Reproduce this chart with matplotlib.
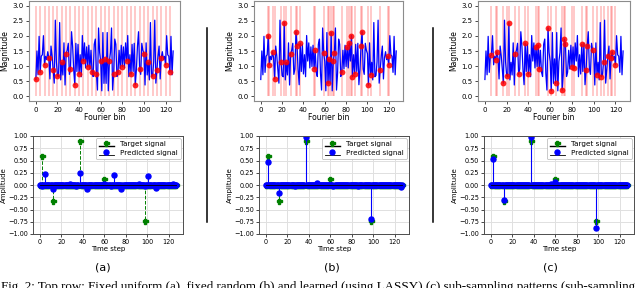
import numpy as np
import matplotlib
matplotlib.use("Agg")
import matplotlib.pyplot as plt
from matplotlib.lines import Line2D

# |spectrum| of the target signal, bins 0..64 (bins 65..127 mirror these)
magnitude_half = [
    0.560, 1.501, 0.715, 1.983, 0.795, 1.329, 1.376, 2.006, 1.045, 1.323, 1.216, 1.477, 1.278,
    0.578, 1.663, 1.343, 0.877, 0.439, 2.517, 1.139, 0.691, 0.650, 2.439, 0.546, 1.127, 0.709,
    1.769, 0.378, 1.414, 1.526, 1.754, 0.728, 0.904, 2.136, 1.665, 0.885, 0.387, 1.754, 0.824,
    1.720, 0.741, 1.377, 0.652, 2.011, 1.168, 1.768, 0.941, 1.636, 0.986, 1.690, 0.907, 1.524,
    0.801, 0.658, 1.720, 1.894, 0.757, 0.211, 2.260, 1.448, 1.156, 0.186, 2.109, 0.431, 1.240,
]
magnitude = magnitude_half + magnitude_half[1:64][::-1]

# sub-sampling patterns (sampled Fourier bins)
bins_uniform = list(range(0, 128, 4))
bins_random = [7, 8, 11, 13, 19, 22, 24, 28, 33, 34, 37, 50, 51, 59, 63, 64,
               66, 68, 69, 76, 81, 83, 85, 86, 88, 94, 95, 101, 103, 112, 119, 120]
bins_learned = [6, 10, 11, 17, 20, 22, 28, 31, 37, 40, 47, 49, 50, 58, 61, 65,
                71, 73, 74, 80, 82, 89, 93, 94, 99, 103, 107, 109, 113, 116, 117, 120]

# target signal (sparse)
target_steps = [2, 12, 37, 60, 98]
target_vals = [0.60, -0.33, 0.90, 0.12, -0.73]

# predicted signals
pred_a_steps = [2, 5, 12, 28, 34, 37, 44, 60, 66, 69, 76, 92, 98, 101, 108, 124]
pred_a_vals = [-0.02, 0.23, -0.08, 0.02, -0.02, 0.24, -0.08, 0.02, -0.02, 0.20, -0.08, 0.02, -0.02, 0.19, -0.07, 0.02]
pred_b_steps = [2, 12, 27, 37, 48, 63, 86, 98, 110, 126]
pred_b_vals = [0.46, -0.17, -0.02, 0.97, 0.04, -0.02, -0.03, -0.70, 0.01, -0.04]
pred_c_steps = [2, 12, 27, 37, 56, 60, 83, 98]
pred_c_vals = [0.53, -0.31, 0.01, 0.97, 0.02, 0.07, 0.01, -0.87]

N = 128
steps = np.arange(N)


def dense(idx, vals):
    out = np.zeros(N)
    out[idx] = vals
    return out


target = dense(target_steps, target_vals)
preds = [dense(pred_a_steps, pred_a_vals), dense(pred_b_steps, pred_b_vals), dense(pred_c_steps, pred_c_vals)]
patterns = [bins_uniform, bins_random, bins_learned]
labels = ["(a)", "(b)", "(c)"]

W, H = 640, 288
fig = plt.figure(figsize=(W / 100, H / 100), dpi=100)


def px_axes(left, right, top, bottom):
    return fig.add_axes([left / W, 1 - bottom / H, (right - left) / W, (bottom - top) / H])


top_boxes = [(29, 180), (254, 403), (478, 630)]
bot_boxes = [(33, 183), (259, 409), (484, 634)]
label_x = [103, 332, 550]

for i in range(3):
    # top row: spectrum and sampled bins
    ax = px_axes(top_boxes[i][0], top_boxes[i][1], 1, 101)
    ax.vlines(patterns[i], 0, 3, colors="red", alpha=0.25, linewidth=1.2)
    ax.plot(steps, magnitude, color="blue", linewidth=0.9)
    ax.plot(patterns[i], [magnitude[b] for b in patterns[i]], "o", color="red",
            markersize=4.2, alpha=0.85, markeredgewidth=0)
    ax.set_xlim(-6.35, 133.35)
    ax.set_ylim(-0.15, 3.15)
    ax.set_yticks(np.arange(0, 3.01, 0.5))
    ax.set_xticks(range(0, 121, 20))
    ax.set_xlabel("Fourier bin", fontsize=5.5, labelpad=0.5)
    ax.set_ylabel("Magnitude", fontsize=5.5, labelpad=2)
    ax.tick_params(labelsize=5, length=2.5, width=0.5, pad=1.5)
    for s in ax.spines.values():
        s.set_color("0.55")
        s.set_linewidth(0.8)

    # bottom row: target vs predicted
    ax = px_axes(bot_boxes[i][0], bot_boxes[i][1], 136, 234)
    ax.grid(True, color="0.88", linewidth=0.7)
    ax.set_axisbelow(True)
    ml, sl, bl = ax.stem(steps, target, linefmt="g--", markerfmt="gP", basefmt="k-",
                         label="Target signal")
    ml.set_markersize(3.6)
    sl.set_linewidth(0.7)
    bl.set_linewidth(1.0)
    ml, sl, bl = ax.stem(steps, preds[i], linefmt="b-", markerfmt="bo", basefmt="k-",
                         label="Predicted signal")
    ml.set_markersize(3.6)
    sl.set_linewidth(0.8)
    bl.set_linewidth(0.6)
    ax.set_xlim(-6.35, 133.35)
    ax.set_ylim(-1, 1)
    ax.set_yticks(np.arange(-1, 1.01, 0.25))
    ax.set_xticks(range(0, 121, 20))
    ax.set_xlabel("Time step", fontsize=5, labelpad=0.5)
    ax.set_ylabel("Amplitude", fontsize=5, labelpad=0.5)
    ax.tick_params(labelsize=4.7, length=2.5, width=0.5, pad=1.2)
    for s in ax.spines.values():
        s.set_color("0.3")
        s.set_linewidth(0.7)
    leg = ax.legend(loc="upper right", fontsize=5.2, borderpad=0.4, handlelength=2.2,
                    labelspacing=0.45, borderaxespad=0.3, framealpha=1)
    leg.get_frame().set_linewidth(0.5)
    leg.get_frame().set_edgecolor("0.7")

    fig.text(label_x[i] / W, 1 - 267 / H, labels[i], fontsize=8, ha="center", va="center")

for xs in (207, 433):
    fig.add_artist(Line2D([xs / W, xs / W], [1 - 28 / H, 1 - 222 / H], color="black",
                          linewidth=1.1, transform=fig.transFigure))

fig.text(0.002, -2 / H, "Fig. 2: Top row: Fixed uniform (a), fixed random (b) and learned "
         "(using LASSY) (c) sub-sampling patterns (sub-sampling",
         fontsize=9.4, family="Liberation Serif", ha="left", va="baseline")

fig.savefig("out.png", dpi=100)
